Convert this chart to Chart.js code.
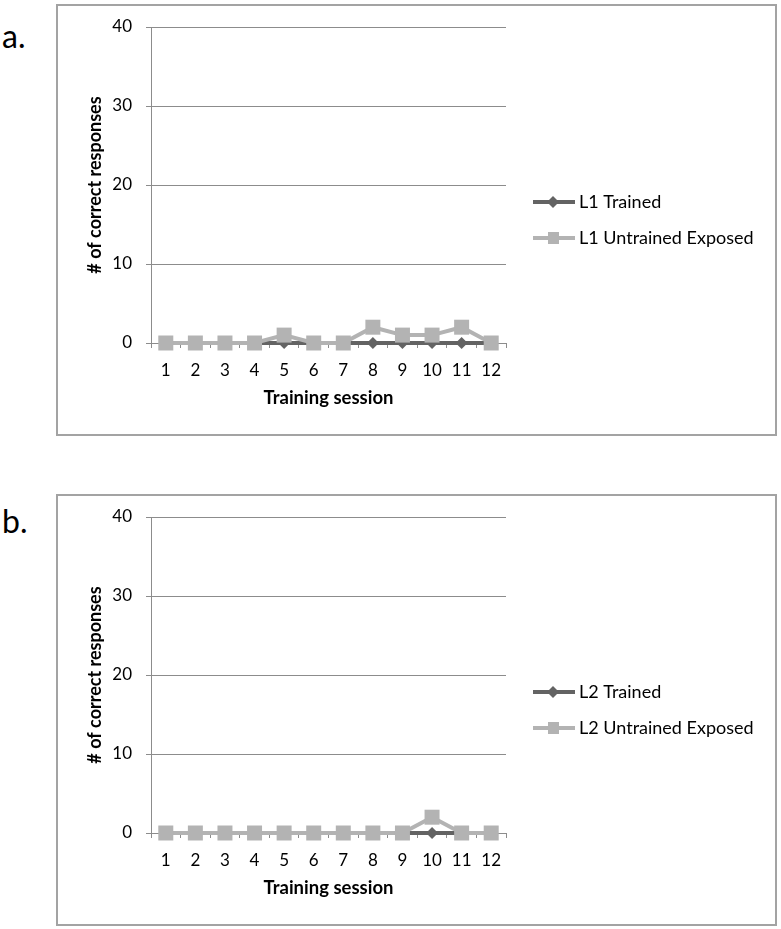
<!DOCTYPE html>
<html>
<head>
<meta charset="utf-8">
<script src="https://cdn.jsdelivr.net/npm/chart.js@4/dist/chart.umd.min.js"></script>
<style>
  body { margin: 0; background: #fff; font-family: Lato, sans-serif; }
  .panel-label { position: absolute; left: 2px; font-size: 32px; color: #000; line-height: 1; }
  .box { position: absolute; left: 56px; width: 717px; height: 428px; border: 2px solid #a3a3a3; }
  .box canvas { display: block; }
</style>
</head>
<body>
<div class="panel-label" style="top: 20px;">a.</div>
<div class="box" style="top: 4px;"><div style="position:relative;width:717px;height:428px;"><canvas id="chartA"></canvas></div></div>
<div class="panel-label" style="top: 505px;">b.</div>
<div class="box" style="top: 494px;"><div style="position:relative;width:717px;height:428px;"><canvas id="chartB"></canvas></div></div>
<script>
// data
const sessions = ["1", "2", "3", "4", "5", "6", "7", "8", "9", "10", "11", "12"];
const l1Trained   = [0, 0, 0, 0, 0, 0, 0, 0, 0, 0, 0, 0];
const l1Untrained = [0, 0, 0, 0, 1, 0, 0, 2, 1, 1, 2, 0];
const l2Trained   = [0, 0, 0, 0, 0, 0, 0, 0, 0, 0, 0, 0];
const l2Untrained = [0, 0, 0, 0, 0, 0, 0, 0, 0, 2, 0, 0];
const yMin = 0, yMax = 40, yStep = 10;

const darkGray = "#636363";
const lightGray = "#b3b3b3";
const axisGray = "#8c8c8c";

// keep the legend column the same width as in the original figure
const fixedLegendWidth = {
    id: "fixedLegendWidth",
    beforeLayout(chart) {
        const legend = chart.legend;
        if (legend && !legend._fixedFit) {
            const fit = legend.fit.bind(legend);
            legend.fit = function () {
                fit();
                this.width = 269;
            };
            legend._fixedFit = true;
        }
    }
};

// little line+marker picture used as legend symbol
function legendSymbol(color, shape) {
    const c = document.createElement("canvas");
    c.width = 60;
    c.height = 16;
    const ctx = c.getContext("2d");
    ctx.strokeStyle = color;
    ctx.lineWidth = 4;
    ctx.beginPath();
    ctx.moveTo(16, 8);
    ctx.lineTo(58, 8);
    ctx.stroke();
    ctx.fillStyle = color;
    if (shape === "diamond") {
        ctx.beginPath();
        ctx.moveTo(36 - 6, 8);
        ctx.lineTo(36, 2);
        ctx.lineTo(36 + 6, 8);
        ctx.lineTo(36, 14);
        ctx.closePath();
        ctx.fill();
    } else {
        ctx.fillRect(31, 2, 11, 12);
    }
    return c;
}

function makeChart(canvasId, trainedLabel, trained, untrainedLabel, untrained) {
    const symbols = [legendSymbol(darkGray, "diamond"), legendSymbol(lightGray, "square")];
    return new Chart(document.getElementById(canvasId), {
        type: "line",
        data: {
            labels: sessions,
            datasets: [
                {
                    label: untrainedLabel,
                    data: untrained,
                    borderColor: lightGray,
                    backgroundColor: lightGray,
                    borderWidth: 4,
                    pointStyle: "rect",
                    pointRadius: 10.6,
                    pointBorderWidth: 0,
                    tension: 0,
                    clip: false
                },
                {
                    label: trainedLabel,
                    data: trained,
                    borderColor: darkGray,
                    backgroundColor: darkGray,
                    borderWidth: 4,
                    pointStyle: "rectRot",
                    pointRadius: 6,
                    pointBorderWidth: 0,
                    tension: 0,
                    clip: false
                }
            ]
        },
        plugins: [fixedLegendWidth],
        options: {
            responsive: true,
            maintainAspectRatio: false,
            animation: false,
            layout: {
                autoPadding: false,
                padding: { left: 0, top: 21, right: 0, bottom: 21 }
            },
            plugins: {
                tooltip: { enabled: false },
                legend: {
                    position: "right",
                    align: "center",
                    labels: {
                        usePointStyle: true,
                        pointStyleWidth: 46,
                        boxHeight: 16,
                        padding: 18,
                        color: "#000",
                        font: { family: "Lato", size: 18 },
                        generateLabels: function () {
                            return [
                                { text: trainedLabel, pointStyle: symbols[0], fillStyle: darkGray, strokeStyle: darkGray, lineWidth: 0, datasetIndex: 1 },
                                { text: untrainedLabel, pointStyle: symbols[1], fillStyle: lightGray, strokeStyle: lightGray, lineWidth: 0, datasetIndex: 0 }
                            ];
                        }
                    }
                }
            },
            scales: {
                x: {
                    type: "category",
                    offset: true,
                    afterFit: function (scale) { scale.height = 70; },
                    grid: {
                        offset: true,
                        drawOnChartArea: false,
                        drawTicks: true,
                        tickLength: 5,
                        color: axisGray
                    },
                    border: { color: axisGray, width: 1 },
                    ticks: {
                        color: "#000",
                        padding: 12,
                        maxRotation: 0,
                        autoSkip: false,
                        font: { family: "Lato", size: 17 }
                    },
                    title: {
                        display: true,
                        text: "Training session",
                        color: "#000",
                        padding: { top: 4, bottom: 4 },
                        font: { family: "Lato", size: 18.5, weight: "bold", lineHeight: 1.2 }
                    }
                },
                y: {
                    min: yMin,
                    max: yMax,
                    afterFit: function (scale) {
                        scale.width = 93;
                        scale.paddingTop = 10;
                        scale.paddingBottom = 10;
                    },
                    grid: {
                        color: axisGray,
                        tickLength: 5
                    },
                    border: { color: axisGray, width: 1 },
                    ticks: {
                        stepSize: yStep,
                        color: "#000",
                        padding: 14,
                        font: { family: "Lato", size: 17 }
                    },
                    title: {
                        display: true,
                        text: "# of correct responses",
                        color: "#000",
                        padding: { top: 26, bottom: 0 },
                        font: { family: "Lato", size: 18, weight: "bold", lineHeight: 1.2 }
                    }
                }
            }
        }
    });
}

makeChart("chartA", "L1 Trained", l1Trained, "L1 Untrained Exposed", l1Untrained);
makeChart("chartB", "L2 Trained", l2Trained, "L2 Untrained Exposed", l2Untrained);
</script>
</body>
</html>
